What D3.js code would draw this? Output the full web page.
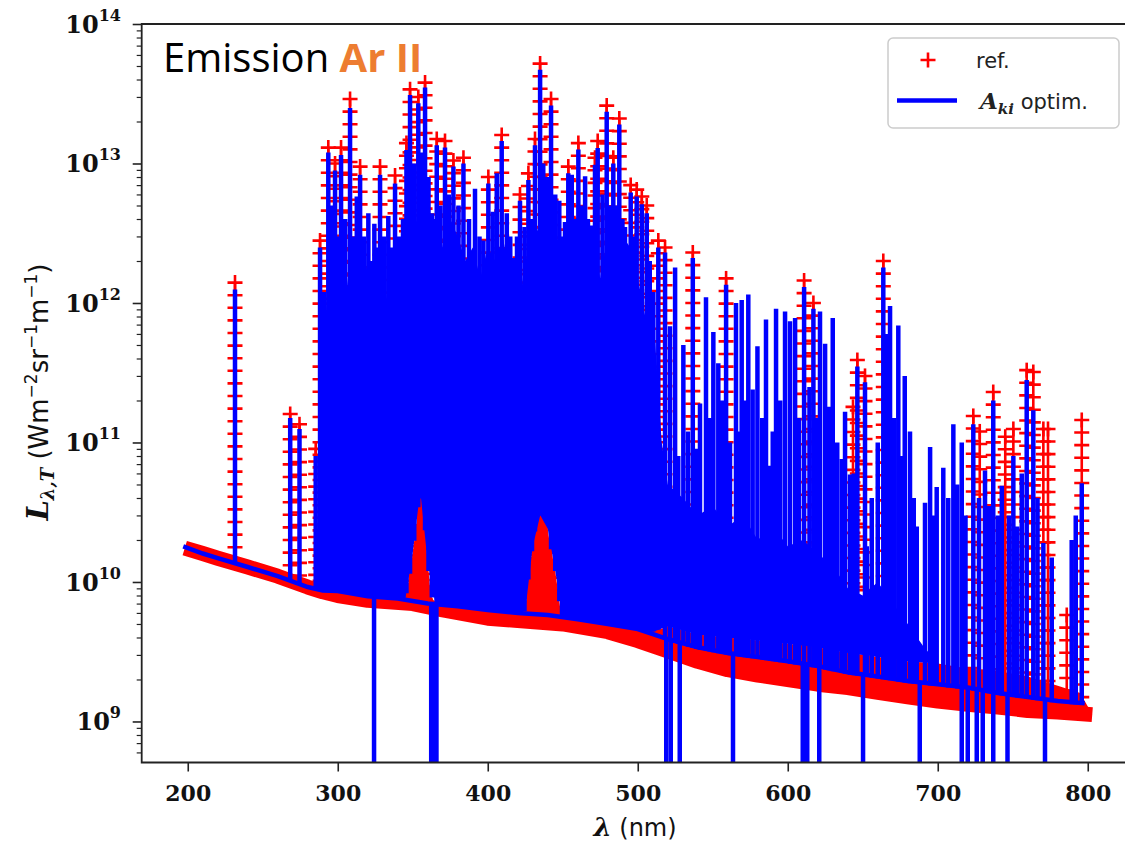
<!DOCTYPE html>
<html>
<head>
<meta charset="utf-8">
<script src="https://cdn.jsdelivr.net/npm/d3@7"></script>
<style>
  body { margin: 0; background: #fff; }
</style>
</head>
<body>
<div id="chart"></div>
<script>
// ---- data (wavelength nm, radiance W m-2 sr-1 m-1) ----

// centre of the red "+" band along the reference continuum
const refContinuum = [
  [198, 1.75e10], [210, 1.6e10], [220, 1.48e10], [240, 1.28e10], [260, 1.1e10],
  [280, 9.2e9], [290, 8.5e9], [300, 8.0e9], [320, 7.4e9], [350, 7.0e9],
  [370, 6.3e9], [400, 5.5e9], [420, 5.3e9], [450, 5.0e9], [480, 4.4e9],
  [500, 3.8e9], [520, 3.2e9], [540, 2.7e9], [560, 2.35e9], [580, 2.15e9],
  [600, 2.0e9], [620, 1.85e9], [640, 1.75e9], [660, 1.62e9], [680, 1.5e9],
  [700, 1.4e9], [720, 1.33e9], [740, 1.27e9], [760, 1.2e9], [780, 1.17e9],
  [803, 1.12e9]
];

// top of the dense red fill just above the continuum
const refUpper = [
  [198, 1.75e10], [284, 9.0e9], [290, 8.7e9], [300, 8.6e9], [310, 8.3e9],
  [320, 7.9e9], [330, 7.8e9], [340, 7.6e9], [345, 7.5e9], [348, 1.1e10],
  [352, 2.4e10], [355, 4.5e10], [357, 3.5e10], [359, 1.8e10], [362, 8e9],
  [365, 7e9], [380, 6.7e9], [400, 6.3e9], [420, 6e9], [425, 6.2e9],
  [428, 1.3e10], [432, 2.5e10], [436, 3.2e10], [438, 3.5e10], [441, 2.0e10],
  [445, 1.2e10], [449, 5.7e9], [460, 5.4e9], [480, 5e9], [500, 4.6e9],
  [510, 4.4e9], [520, 4.8e9], [540, 4.2e9], [560, 4.0e9], [580, 3.8e9],
  [600, 3.6e9], [620, 3.4e9], [640, 3.1e9], [660, 2.9e9], [680, 2.7e9],
  [700, 2.6e9], [720, 2.4e9], [740, 2.3e9], [760, 2.1e9], [780, 1.8e9],
  [795, 1.6e9], [803, 1.12e9]
];

// peaks of the reference lines (red "+" ladders)
const refPeaks = [
  [231.5, 1.4e12], [268.3, 1.6e11], [274.5, 1.35e11], [285.3, 9e10], [288.2, 2.8e12],
  [293.7, 1.3e13], [298.2, 1e13], [302.2, 1.3e13], [308.2, 2.9e13], [314.9, 9.5e12],
  [328.2, 9.5e12], [338.2, 8.2e12], [345.8, 1.4e13], [348.2, 3.4e13], [353.7, 3e13],
  [358.2, 3.8e13], [366, 1.5e13], [371.5, 1.45e13], [377.1, 1.05e13], [383.8, 1.1e13],
  [400.4, 8e12], [409.3, 1.6e13], [421.5, 6e12], [427.1, 8.5e12], [431.5, 1.5e13],
  [434.9, 5.2e13], [442.2, 2.9e13], [453.7, 9.5e12], [460.4, 1.4e13], [471.5, 1.1e13],
  [473.3, 1.45e13], [479.3, 2.6e13], [483.7, 1.1e13], [487.7, 2.1e13], [495.3, 7e12],
  [499.3, 6.5e12], [502.7, 5.8e12], [506, 5e12], [513.7, 2.8e12], [518.2, 2.5e12],
  [536.7, 2.3e12], [558.9, 1.5e12], [610.9, 1.45e12], [617.1, 1e12], [643.5, 1.8e11],
  [646.4, 3.9e11], [651.5, 3e11], [663.7, 2e12], [723.7, 1.55e11], [728, 1.2e11],
  [737, 2.3e11], [745, 1.1e11], [750.4, 1.25e11], [759.3, 3.3e11], [763.7, 3.2e11],
  [770.4, 1.25e11], [773.5, 1.25e11], [786, 5.8e9], [796, 1.45e11]
];

// base of the optimised (blue) spectrum
const blueContinuum = [
  [197, 1.8e10], [210, 1.6e10], [220, 1.48e10], [240, 1.28e10], [260, 1.1e10],
  [280, 9.2e9], [290, 8.7e9], [300, 8.6e9], [320, 7.9e9], [340, 7.6e9],
  [360, 7e9], [380, 6.7e9], [400, 6.3e9], [420, 6e9], [440, 5.8e9],
  [460, 5.4e9], [480, 5e9], [500, 4.6e9], [520, 3.9e9], [540, 3.4e9],
  [560, 3.1e9], [580, 2.9e9], [600, 2.7e9], [620, 2.5e9], [640, 2.25e9],
  [660, 2.1e9], [680, 1.95e9], [700, 1.85e9], [720, 1.75e9], [740, 1.6e9],
  [760, 1.5e9], [780, 1.4e9], [798, 1.35e9]
];

// height up to which the blue lines overlap into a solid block
const blueFloor = [
  [284, 9e9], [287, 3e10], [289, 2e11], [292, 8e11], [296, 2e12], [300, 1.2e12],
  [304, 2.5e12], [308, 1e12], [312, 2.5e12], [316, 1.2e12], [320, 2e12], [325, 1e12],
  [330, 1.5e12], [335, 8e11], [340, 1.5e12], [345, 1e12], [350, 3e12], [355, 5e12],
  [360, 4e12], [365, 4e12], [370, 2.5e12], [375, 4e12], [380, 3e12], [385, 2e12],
  [390, 2.5e12], [395, 1.5e12], [400, 2.5e12], [405, 2e12], [410, 3e12], [415, 1.5e12],
  [420, 8e11], [425, 2e12], [430, 2.5e12], [435, 4e12], [440, 5e12], [445, 3e12],
  [450, 2.5e12], [455, 1.5e12], [460, 2.5e12], [465, 3e12], [470, 2.5e12], [475, 1.5e12],
  [480, 3e12], [485, 4e12], [490, 3e12], [495, 2.5e12], [500, 1.5e12], [505, 8e11],
  [510, 1e12], [513, 3e11], [516, 1e11], [520, 5e10], [530, 4e10], [540, 3e10],
  [550, 3.5e10], [560, 2.5e10], [570, 3e10], [580, 2e10], [590, 2.5e10], [600, 1.8e10],
  [610, 2e10], [620, 1.6e10], [630, 1.3e10], [640, 9e9], [650, 8e9], [660, 1e10],
  [670, 7e9], [680, 5e9], [690, 3.5e9], [700, 2.6e9]
];

// individual blue line peaks
const bluePeaks = [
  [231.5, 1.25e12], [268.3, 1.5e11], [274.5, 1.25e11], [285.3, 8e10], [288.2, 2.5e12],
  [291, 1.2e12], [293.7, 1.2e13], [296, 5e12], [298.2, 8.9e12], [300, 3e12],
  [302.2, 1.15e13], [305, 4e12], [308.2, 2.5e13], [310.5, 3e12], [312.7, 5.8e12],
  [314.9, 8.3e12], [317.5, 3e12], [320.4, 4.4e12], [322.5, 2e12], [324.4, 3.7e12],
  [326.5, 2.5e12], [328.2, 8.3e12], [331, 3e12], [333.7, 4.2e12], [336, 2.5e12],
  [338.2, 7.2e12], [341, 3e12], [343.5, 4e12], [345.8, 1.25e13], [348.2, 3.1e13],
  [351, 1e13], [353.7, 2.7e13], [356, 1.2e13], [358.2, 3.5e13], [360.5, 8e12],
  [362.7, 4.4e12], [366, 1.35e13], [368.5, 5e12], [371.5, 1.3e13], [374, 6e12],
  [377.1, 9.5e12], [380.5, 5e12], [383.8, 1e13], [387.5, 4e12], [391.5, 6.6e12],
  [394.5, 3e12], [397.1, 2.8e12], [400.4, 7.2e12], [403.3, 4.5e12], [406, 8.5e12],
  [409.3, 1.45e13], [412.7, 4.4e12], [415, 3e12], [417.1, 2.1e12], [419.5, 3e12],
  [421.5, 5.4e12], [424.5, 3.5e12], [427.1, 7.6e12], [429.5, 4e12], [431.5, 1.35e13],
  [434.9, 4.7e13], [437, 1e13], [439.5, 8e12], [442.2, 2.6e13], [445, 6e12],
  [447.7, 5.4e12], [449.5, 3e12], [451.5, 3.8e12], [453.7, 8.5e12], [456, 8.3e12],
  [458.2, 4e12], [460.4, 1.26e13], [462.5, 5e12], [464.9, 8.1e12], [466.8, 4e12],
  [468.7, 3.6e12], [471.5, 9.8e12], [473.3, 1.29e13], [476.5, 6e12], [479.3, 2.35e13],
  [481.5, 5e12], [483.7, 1e13], [486, 5e12], [487.7, 1.9e13], [489.8, 4e12],
  [491.5, 3.5e12], [495.3, 6.2e12], [497.5, 3e12], [499.3, 5.8e12], [502.7, 5.1e12],
  [506, 4.4e12], [508, 2e12], [510.4, 1.2e12], [513.7, 2.5e12], [518.2, 2.3e12],
  [521.5, 6.8e11], [524.9, 1.8e12], [527, 8e10], [530.4, 5e11], [533.5, 1.2e11],
  [536.7, 2.1e12], [539, 9e10], [541.5, 1.9e11], [545.5, 1.1e12], [548, 1.5e11],
  [550.4, 6.2e11], [553.7, 3.7e11], [556, 2e11], [558.9, 1.35e12], [561.5, 1e11],
  [565.5, 1e12], [567.5, 1.2e11], [569.3, 1.05e12], [571.5, 2e11], [573.7, 1.15e12],
  [576.6, 2.4e11], [579.8, 4.9e11], [583, 1.5e11], [585.5, 7.6e11], [588.2, 6.8e10],
  [590, 1.2e11], [592.2, 9.1e11], [595, 2e11], [598.2, 8.7e11], [601.5, 7.4e11],
  [604.9, 7.8e11], [607.5, 1.5e11], [610.9, 1.3e12], [614.5, 2.5e11], [617.1, 9.1e11],
  [619.5, 1.5e11], [621.5, 8.7e11], [624.9, 5.1e11], [627.5, 1.8e11], [630, 7.8e11],
  [633, 1e11], [636, 7.6e10], [638.2, 1.66e11], [641.5, 5.9e10], [644, 6e10],
  [646.4, 3.5e11], [651.5, 2.7e11], [652.7, 1.8e10], [656, 4e10], [660, 1e11],
  [663.7, 1.8e12], [666, 6e11], [668.2, 9.5e11], [671, 1.5e11], [673.7, 6.9e11],
  [676, 8e10], [678, 3e11], [681.5, 1.2e11], [684, 4e10], [686, 2.5e10],
  [691.5, 3.7e10], [694.9, 9.3e10], [697, 3e10], [699.3, 4.8e10], [703.7, 6.6e10],
  [707, 4e10], [710.4, 1.35e11], [713, 5e10], [716, 1e11], [718.5, 3e10],
  [723.7, 1.35e11], [727.5, 4e10], [731.5, 6.3e10], [734, 3.5e10], [737, 2e11],
  [740, 3e10], [742.7, 4.9e10], [747.5, 3e10], [750.4, 8e10], [753, 2.5e10],
  [756, 6e10], [759.3, 2.8e11], [763.7, 1.7e11], [766.5, 4e10], [770.4, 1.9e10],
  [776, 1.5e10], [789.3, 2e10], [792, 3e10], [796, 5.1e10]
];

// wavelengths where the blue curve drops out of the plot
const blueDips = [324.2, 362.3, 364, 365.8, 519, 522, 528, 563.5, 610, 613, 621,
  650.2, 688, 716, 720, 726, 730, 737, 746.5, 771.5];

const xTicks = [200, 300, 400, 500, 600, 700, 800];
const yExponents = [9, 10, 11, 12, 13, 14];

// ---- layout ----
const width = 1125, height = 844;
const plotLeft = 141.7, plotTop = 24, plotBottom = 762.5, plotRight = 1137.7;
const denseEnd = 515; // below this the blue lines sit on top of the red fill

const x = d3.scaleLinear().domain([169.3, 833.3]).range([plotLeft, plotRight]);
const y = d3.scaleLog().domain([5.08e8, 1e14]).range([plotBottom, plotTop]);

// pixel height of the continua at a given wavelength
function levelAt(series) {
  return d3.scaleLinear()
    .domain(series.map(d => d[0]))
    .range(series.map(d => y(d[1])))
    .clamp(true);
}
const refBaseY = levelAt(refContinuum);
const refTopY = levelAt(refUpper);
const blueBaseY = levelAt(blueContinuum);

function peakFoot(nm) {
  const base = blueBaseY(nm) + 2;
  return nm < denseEnd ? Math.min(base, refTopY(nm)) : base;
}

const red = "#ff0000", blue = "#0000ff";
const serif = "'DejaVu Serif', serif";
const sans = "'DejaVu Sans', sans-serif";

const svg = d3.select("#chart").append("svg")
  .attr("width", width)
  .attr("height", height)
  .attr("viewBox", [0, 0, width, height]);

svg.append("defs").append("clipPath").attr("id", "plotclip")
  .append("rect")
  .attr("x", plotLeft).attr("y", plotTop)
  .attr("width", plotRight - plotLeft).attr("height", plotBottom - plotTop);

const plot = svg.append("g").attr("clip-path", "url(#plotclip)");

// ---- reference (red +) ----
const refG = plot.append("g");

refG.append("path")
  .datum(refUpper)
  .attr("fill", red)
  .attr("d", d3.area()
    .x(d => x(d[0]))
    .y0(d => refBaseY(d[0]))
    .y1(d => Math.min(y(d[1]), refBaseY(d[0]))));

refG.append("path")
  .datum(refContinuum)
  .attr("fill", "none")
  .attr("stroke", red)
  .attr("stroke-width", 15)
  .attr("stroke-linejoin", "round")
  .attr("d", d3.line().x(d => x(d[0])).y(d => y(d[1])));

// ladders of + markers up each reference line
const ladder = refG.selectAll("g.ladder")
  .data(refPeaks)
  .join("g")
  .attr("class", "ladder");

ladder.append("line")
  .attr("x1", d => x(d[0])).attr("x2", d => x(d[0]))
  .attr("y1", d => y(d[1])).attr("y2", d => refBaseY(d[0]))
  .attr("stroke", red).attr("stroke-width", 2.6);

ladder.append("line")
  .attr("x1", d => x(d[0])).attr("x2", d => x(d[0]))
  .attr("y1", d => y(d[1]) - 1.3).attr("y2", d => refBaseY(d[0]))
  .attr("stroke", red).attr("stroke-width", 15)
  .attr("stroke-dasharray", "2.6 10");

ladder.append("line")
  .attr("x1", d => x(d[0])).attr("x2", d => x(d[0]))
  .attr("y1", d => y(d[1]) - 7.5).attr("y2", d => y(d[1]) + 7.5)
  .attr("stroke", red).attr("stroke-width", 2.6);

// ---- optimised spectrum (blue) ----
const blueG = plot.append("g");

// solid block sits on top of the red fill so the red band stays visible below
blueG.append("path")
  .datum(blueFloor)
  .attr("fill", blue)
  .attr("d", d3.area()
    .x(d => x(d[0]))
    .y0(d => Math.min(refTopY(d[0]), blueBaseY(d[0])))
    .y1(d => Math.min(y(d[1]), refTopY(d[0]), blueBaseY(d[0]))));

blueG.append("path")
  .datum(blueContinuum)
  .attr("fill", "none")
  .attr("stroke", blue)
  .attr("stroke-width", 4.5)
  .attr("d", d3.line().x(d => x(d[0])).y(d => y(d[1])));

blueG.selectAll("line.peak")
  .data(bluePeaks)
  .join("line")
  .attr("class", "peak")
  .attr("x1", d => x(d[0])).attr("x2", d => x(d[0]))
  .attr("y1", d => y(d[1])).attr("y2", d => peakFoot(d[0]))
  .attr("stroke", blue).attr("stroke-width", 4.5);

blueG.selectAll("line.dip")
  .data(blueDips)
  .join("line")
  .attr("class", "dip")
  .attr("x1", d => x(d)).attr("x2", d => x(d))
  .attr("y1", d => blueBaseY(d)).attr("y2", plotBottom + 5)
  .attr("stroke", blue).attr("stroke-width", 4.5);

// ---- axes ----
const axisColor = "#222";

const xAxis = svg.append("g")
  .attr("transform", `translate(0,${plotBottom})`)
  .call(d3.axisBottom(x).tickValues(xTicks).tickSize(9).tickPadding(14).tickSizeOuter(0));
xAxis.select(".domain").remove();
xAxis.selectAll(".tick line").attr("stroke", axisColor).attr("stroke-width", 1.6);
xAxis.selectAll(".tick text")
  .attr("fill", "#111")
  .style("font-family", serif)
  .style("font-weight", "bold")
  .style("font-size", "22px");

const minorTicks = [];
yExponents.concat([8]).forEach(e => {
  for (let m = 2; m <= 9; m++) {
    const v = m * Math.pow(10, e);
    if (v > y.domain()[0] && v < y.domain()[1]) minorTicks.push(v);
  }
});

const yMinor = svg.append("g")
  .attr("transform", `translate(${plotLeft},0)`)
  .call(d3.axisLeft(y).tickValues(minorTicks).tickSize(5).tickFormat(""));
yMinor.select(".domain").remove();
yMinor.selectAll(".tick line").attr("stroke", axisColor).attr("stroke-width", 1.2);

const yMajor = svg.append("g")
  .attr("transform", `translate(${plotLeft},0)`)
  .call(d3.axisLeft(y).tickValues(yExponents.map(e => Math.pow(10, e))).tickSize(9).tickFormat(""));
yMajor.select(".domain").remove();
yMajor.selectAll(".tick line").attr("stroke", axisColor).attr("stroke-width", 1.6);

const yLabels = svg.append("g");
yExponents.forEach(e => {
  const t = yLabels.append("text")
    .attr("x", 121)
    .attr("y", y(Math.pow(10, e)) + 9)
    .attr("text-anchor", "end")
    .attr("fill", "#111")
    .style("font-family", serif)
    .style("font-weight", "bold");
  t.append("tspan").style("font-size", "24px").text("10");
  t.append("tspan").style("font-size", "16px").attr("dy", -12).text(e);
});

// spines (left, bottom, top); the right one is cut off by the picture
svg.append("path")
  .attr("d", `M${width + 5},${plotTop}H${plotLeft}V${plotBottom}H${width + 5}`)
  .attr("fill", "none")
  .attr("stroke", axisColor)
  .attr("stroke-width", 1.8);

// ---- axis titles ----
const xTitle = svg.append("text")
  .attr("x", 635).attr("y", 836)
  .attr("text-anchor", "middle")
  .attr("fill", "#111");
xTitle.append("tspan")
  .style("font-family", serif).style("font-weight", "bold").style("font-style", "italic")
  .style("font-size", "26px").text("λ");
xTitle.append("tspan")
  .style("font-family", sans).style("font-size", "24px").text(" (nm)");

const yTitle = svg.append("text")
  .attr("transform", "translate(48,392) rotate(-90)")
  .attr("text-anchor", "middle")
  .attr("fill", "#111")
  .style("font-family", sans)
  .style("font-size", "26px");
yTitle.append("tspan")
  .style("font-family", serif).style("font-weight", "bold").style("font-style", "italic")
  .style("font-size", "29px").text("L");
yTitle.append("tspan")
  .style("font-family", serif).style("font-weight", "bold").style("font-style", "italic")
  .style("font-size", "18px").attr("dy", 6).text("λ,T");
yTitle.append("tspan").attr("dy", -6).text(" (Wm");
yTitle.append("tspan").style("font-size", "17px").attr("dy", -11).text("−2");
yTitle.append("tspan").attr("dy", 11).text("sr");
yTitle.append("tspan").style("font-size", "17px").attr("dy", -11).text("−1");
yTitle.append("tspan").attr("dy", 11).text("m");
yTitle.append("tspan").style("font-size", "17px").attr("dy", -11).text("−1");
yTitle.append("tspan").attr("dy", 11).text(")");

// ---- title inside the plot ----
const title = svg.append("text")
  .attr("x", 163).attr("y", 72)
  .style("font-family", "'Open Sans', sans-serif")
  .style("font-size", "40px")
  .attr("fill", "#000");
title.append("tspan").text("Emission ");
title.append("tspan").attr("fill", "#ed7d31").style("font-weight", "bold").text("Ar II");

// ---- legend ----
const legend = svg.append("g");
legend.append("rect")
  .attr("x", 888).attr("y", 38).attr("width", 231).attr("height", 90).attr("rx", 5)
  .attr("fill", "#fff").attr("fill-opacity", 0.85)
  .attr("stroke", "#cccccc").attr("stroke-width", 1.5);
legend.append("path")
  .attr("d", "M920.5,60H935.5M928,52.5V67.5")
  .attr("stroke", red).attr("stroke-width", 2.6);
legend.append("line")
  .attr("x1", 897).attr("x2", 957).attr("y1", 100.5).attr("y2", 100.5)
  .attr("stroke", blue).attr("stroke-width", 4.5);
legend.append("text")
  .attr("x", 976).attr("y", 68)
  .attr("fill", "#222")
  .style("font-family", sans).style("font-size", "21px")
  .text("ref.");
const leg2 = legend.append("text")
  .attr("x", 980).attr("y", 109)
  .attr("fill", "#222")
  .style("font-family", sans).style("font-size", "21px");
leg2.append("tspan")
  .style("font-family", serif).style("font-weight", "bold").style("font-style", "italic")
  .style("font-size", "23px").text("A");
leg2.append("tspan")
  .style("font-family", serif).style("font-weight", "bold").style("font-style", "italic")
  .style("font-size", "15px").attr("dy", 5).text("ki");
leg2.append("tspan").attr("dy", -5).text(" optim.");
</script>
</body>
</html>
